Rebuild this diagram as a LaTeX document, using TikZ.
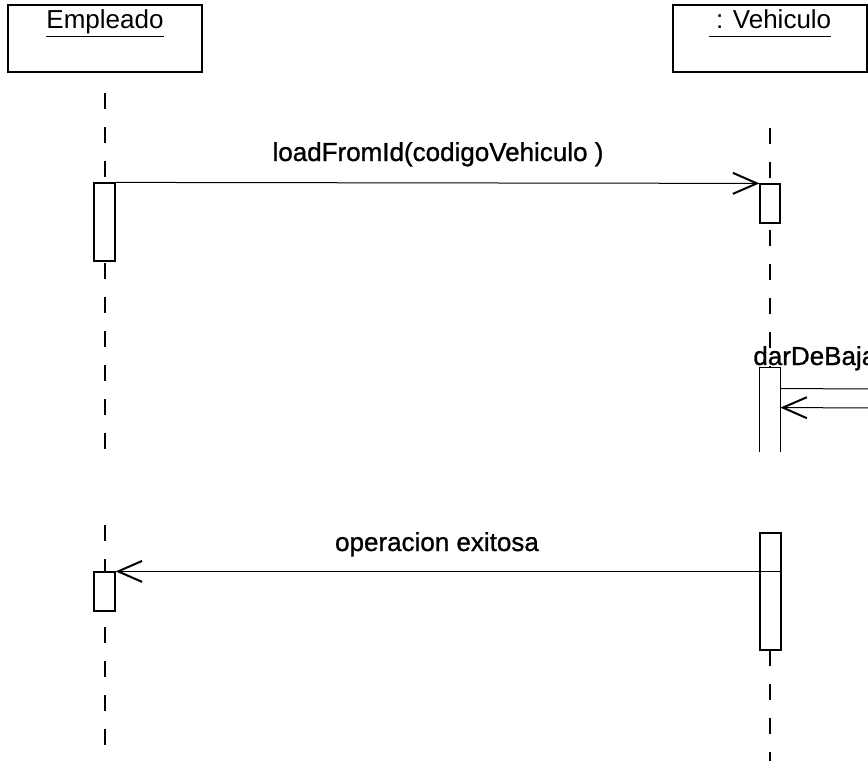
\documentclass[tikz,border=0pt]{standalone}
\usepackage{fontspec}
\setmainfont{Liberation Sans}
\usetikzlibrary{arrows.meta,calc}
\newcommand\myul[1]{\underline{\vphantom{p}#1}}
\tikzset{
  hdr/.style={draw, line width=0.6pt, minimum width=97pt, minimum height=33.5pt, inner sep=0pt},
  lbl/.style={anchor=base, inner sep=0pt, font=\fontsize{13}{15}\selectfont},
  mlbl/.style={lbl, font=\fontsize{13}{15}\selectfont\addfontfeature{FakeBold=1}},
  life/.style={line width=0.7pt, dash pattern=on 8pt off 9pt},
  act/.style={draw, fill=white, line width=0.6pt, inner sep=0pt, minimum width=10.5pt},
  msg/.style={line width=0.5pt, -{Straight Barb[length=12pt,width=10.5pt,line width=1pt]}},
  plain/.style={line width=0.5pt}
}
\begin{document}
\begin{tikzpicture}[x=0.5pt,y=-0.5pt]
\useasboundingbox (0,0) rectangle (868,761);
\clip (0,0) rectangle (868,761);
% headers
\node[hdr] (emp) at (105,38.5) {};
\node[hdr] (veh) at (770,38.5) {};
\node[lbl] (empT) at (105,28) {\myul{Empleado}};
\node[lbl] (vehT) at (770,28) {\myul{\ : Vehiculo}};
% lifelines
\coordinate (e1) at (105,93);  \coordinate (e2) at (105,450);
\coordinate (e3) at (105,525); \coordinate (e4) at (105,761);
\coordinate (v1) at (770,128); \coordinate (v2) at (770,452);
\coordinate (v3) at (770,650); \coordinate (v4) at (770,761);
\draw[life] (e1) -- (e2);
\draw[life] (e3) -- (e4);
\draw[life] (v1) -- (v2);
\draw[life] (v3) -- (v4);
% activations
\node[act, minimum height=39pt] (eact1) at (104.5,222) {};
\node[act, minimum width=10pt, minimum height=19.5pt] (vact1) at (770,203.5) {};
\node[fill=white, inner sep=0pt, minimum width=10pt, minimum height=42pt] (vact2) at (770,410) {};
\draw[line width=0.6pt] (vact2.south west) -- (vact2.north west) -- (vact2.north east) -- (vact2.south east);
\node[act, minimum height=58.5pt] (vact3) at (770.5,591.5) {};
\node[act, minimum height=19.5pt] (eact2) at (104.5,591.5) {};
% messages
\draw[msg] (eact1.north east) -- (vact1.north west);
\node[mlbl] (m1) at (438,161) {loadFromId(codigoVehiculo )};
\node[mlbl, anchor=base west] (m2) at (753,365) {darDeBaja};
\coordinate (s1) at (900,389);
\coordinate (s2) at (900,408);
\draw[plain] ($(vact2.north east)+(0,21)$) -- (s1) -- (s2);
\draw[msg] (s2) -- ($(vact2.north east)+(0,40)$);
\draw[msg] (eact2.north east -| vact3.east) -- (eact2.north east);
\node[mlbl] (m3) at (437,551) {operacion exitosa};
\end{tikzpicture}
\end{document}
